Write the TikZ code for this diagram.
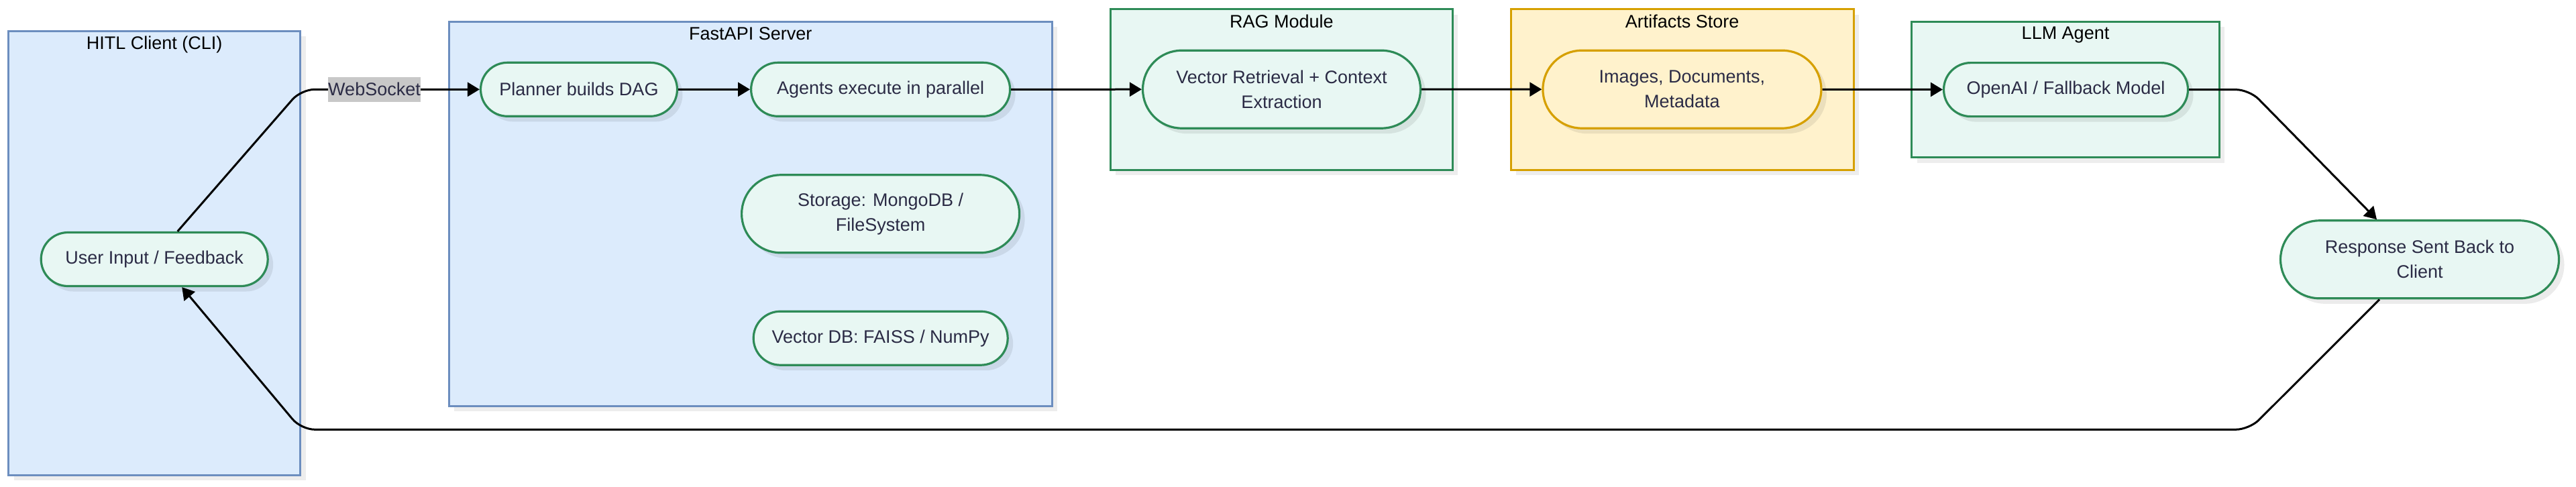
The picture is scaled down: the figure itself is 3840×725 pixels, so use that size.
\documentclass[tikz,border=0pt]{standalone}
\usepackage{fontspec}
\setmainfont{Liberation Sans}
\usetikzlibrary{shapes, arrows.meta, positioning, shadows}

\definecolor{groupblue}{HTML}{DCEBFC}
\definecolor{groupblueline}{HTML}{6C8EBF}
\definecolor{mint}{HTML}{E8F7F3}
\definecolor{mintline}{HTML}{2E8B57}
\definecolor{sand}{HTML}{FFF2CC}
\definecolor{sandline}{HTML}{D6A000}
\definecolor{inktext}{HTML}{2B2B45}
\definecolor{labelgray}{HTML}{C8C8C8}

\begin{document}
\begin{tikzpicture}[
    x=0.5pt, y=-0.5pt,
    font=\fontsize{13.5}{18.5}\selectfont,
    group/.style={rectangle, line width=1.5pt, inner sep=0pt, drop shadow={shadow xshift=4pt, shadow yshift=-4pt, fill=black, opacity=0.07}},
    bluegroup/.style={group, draw=groupblueline, fill=groupblue},
    mintgroup/.style={group, draw=mintline, fill=mint},
    sandgroup/.style={group, draw=sandline, fill=sand},
    grouptitle/.style={inner sep=0pt, text=black},
    stage/.style={rounded rectangle, draw=mintline, fill=mint, line width=1.6pt, text=inktext, align=center, minimum height=40pt, inner sep=2pt, drop shadow={shadow xshift=4pt, shadow yshift=-4pt, fill=black, opacity=0.08}},
    tallstage/.style={stage, minimum height=58pt},
    sandstage/.style={tallstage, draw=sandline, fill=sand},
    flow/.style={-{Triangle[length=9pt, width=10.5pt]}, line width=1.5pt, rounded corners=10pt},
    wslabel/.style={sharp corners, fill=labelgray, text=inktext, inner sep=0pt, minimum width=67.5pt, minimum height=18.3pt}
]
\useasboundingbox (0,0) rectangle (3840,725);

% Groups
\node[bluegroup, minimum width=217.5pt, minimum height=331pt] (hitl) at (230.25,377.25) {};
\node[grouptitle, below=4.5pt] (hitltitle) at (hitl.north) {HITL Client (CLI)};

\node[bluegroup, minimum width=449.5pt, minimum height=286.5pt] (server) at (1118.75,318.8) {};
\node[grouptitle, below=4.5pt] (servertitle) at (server.north) {FastAPI Server};

\node[mintgroup, minimum width=255pt, minimum height=119.75pt] (rag) at (1910.45,133.65) {};
\node[grouptitle, below=4.5pt] (ragtitle) at (rag.north) {RAG Module};

\node[sandgroup, minimum width=255.5pt, minimum height=119.75pt] (store) at (2507.6,133.65) {};
\node[grouptitle, below=4.5pt] (storetitle) at (store.north) {Artifacts Store};

\node[mintgroup, minimum width=229.3pt, minimum height=101.25pt] (llm) at (3079,133.65) {};
\node[grouptitle, below=4.5pt] (llmtitle) at (llm.north) {LLM Agent};

% Steps
\node[stage, minimum width=173pt] (ui) at (230.2,386.5) {User Input / Feedback};
\node[stage, minimum width=150.5pt] (planner) at (863,133.3) {Planner builds DAG};
\node[stage, minimum width=197pt] (agents) at (1312.6,133.3) {Agents execute in parallel};
\node[tallstage, minimum width=211pt] (storage) at (1312.6,318.8) {Storage: MongoDB /\\FileSystem};
\node[stage, minimum width=193.5pt] (vecdb) at (1312.7,504.2) {Vector DB: FAISS / NumPy};
\node[tallstage, minimum width=211pt] (retrieval) at (1910.5,133.2) {Vector Retrieval + Context\\Extraction};
\node[sandstage, minimum width=211.5pt] (images) at (2507.4,133.2) {Images, Documents,\\Metadata};
\node[stage, minimum width=186pt] (openai) at (3079.5,133.6) {OpenAI / Fallback Model};
\node[tallstage, minimum width=211.5pt] (response) at (3607,386.8) {Response Sent Back to\\Client};

% Bends
\coordinate (wsbend) at (449,133.3);
\coordinate (outbend) at (3353,133.6);
\coordinate (backbend) at (3353,640.3);
\coordinate (homebend) at (449,640.3);

% Arrows
\draw[flow] ([xshift=17.25pt]ui.north) -- (wsbend) -- node[wslabel, pos=0.41] {WebSocket} (planner.west);
\draw[flow] (planner) -- (agents);
\draw[flow] (agents) -- (retrieval);
\draw[flow] (retrieval) -- (images);
\draw[flow] (images) -- (openai);
\draw[flow] (openai.east) -- (outbend) -- ([xshift=-32pt]response.north);
\draw[flow] ([xshift=-30pt]response.south) -- (backbend) -- (homebend) -- ([xshift=20.5pt]ui.south);

\end{tikzpicture}
\end{document}
